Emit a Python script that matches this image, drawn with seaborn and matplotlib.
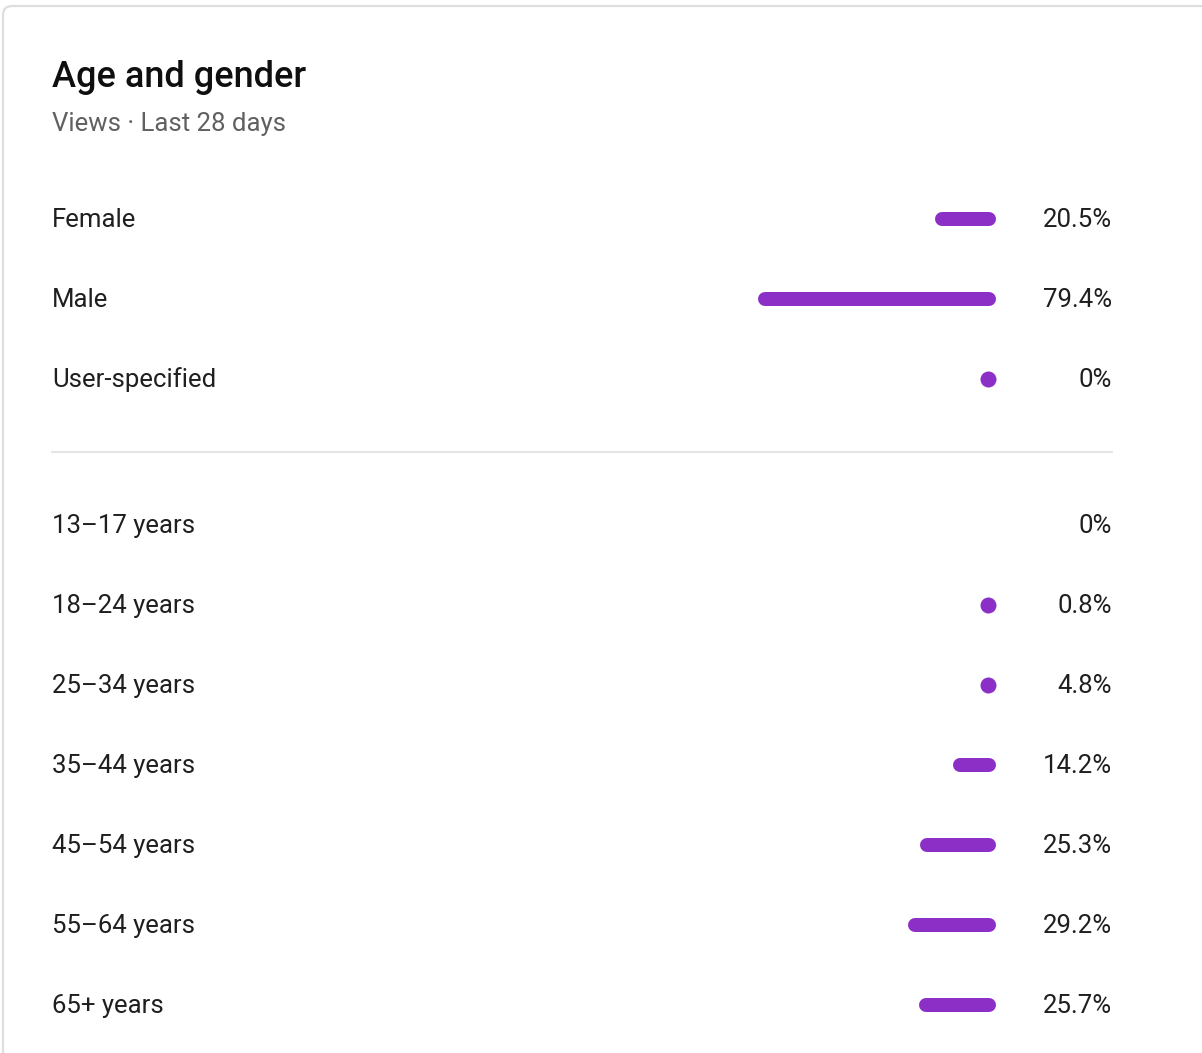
import numpy as np
import pandas as pd
import matplotlib
matplotlib.use("Agg")
import matplotlib.pyplot as plt
import seaborn as sns
from matplotlib.patches import FancyBboxPatch
from matplotlib.transforms import IdentityTransform

# ---------------- data ----------------
title = "Age and gender"
subtitle = "Views · Last 28 days"

gender_labels = ["Female", "Male", "User-specified"]
gender_values = [20.5, 79.4, 0.02]
gender_texts = ["20.5%", "79.4%", "0%"]

age_labels = ["13–17 years", "18–24 years", "25–34 years", "35–44 years",
              "45–54 years", "55–64 years", "65+ years"]
age_values = [0.0, 0.8, 4.8, 14.2, 25.3, 29.2, 25.7]
age_texts = ["0%", "0.8%", "4.8%", "14.2%", "25.3%", "29.2%", "25.7%"]

# ---------------- style ----------------
W, H, DPI = 1202, 1053, 100
PURPLE = "#8b2fc6"
TEXT = "#1f1f1f"
SUB = "#606060"
FONT = ["Roboto", "DejaVu Sans"]

sns.set_theme(style="white")
plt.rcParams["font.family"] = FONT

fig = plt.figure(figsize=(W / DPI, H / DPI), dpi=DPI)
fig.patch.set_facecolor("white")

def fx(px):
    return px / W

def fy(py):
    return 1 - py / H

# card outline (extends past right and bottom edges)
card = FancyBboxPatch((3, -40), W + 60, H - 6 + 40,
                      boxstyle="round,pad=0,rounding_size=9",
                      transform=IdentityTransform(), facecolor="white",
                      edgecolor="#dedede", linewidth=1.6, zorder=0)
fig.add_artist(card)

# bars axes: x in percent, 3 px per percent, right edge at 996 px
BAR_RIGHT = 996
PX_PER_PCT = 3.0
ax_w = 100 * PX_PER_PCT
ax = fig.add_axes([fx(BAR_RIGHT - ax_w), 0, fx(ax_w), 1])

# row layout
ROW0_G, ROW0_A, STEP = 219, 525, 80
rows = []
for i, (lab, v, t) in enumerate(zip(gender_labels, gender_values, gender_texts)):
    rows.append((ROW0_G + STEP * i, lab, v, t))
for i, (lab, v, t) in enumerate(zip(age_labels, age_values, age_texts)):
    rows.append((ROW0_A + STEP * i, lab, v, t))

thick_px = 14
dot_px = 16
r = (thick_px / 2) / PX_PER_PCT
min_pct = dot_px / PX_PER_PCT

seg_rows, dot_rows = [], []
for k, (y, lab, v, t) in enumerate(rows):
    if v <= 0:
        continue
    if v < min_pct:
        dot_rows.append({"x": min_pct / 2, "y": y})
    else:
        seg_rows.append({"x": r, "y": y, "seg": k})
        seg_rows.append({"x": v - r, "y": y, "seg": k})

seg_df = pd.DataFrame(seg_rows)
dot_df = pd.DataFrame(dot_rows)

sns.lineplot(data=seg_df, x="x", y="y", units="seg", estimator=None, sort=False,
             color=PURPLE, linewidth=thick_px * 72 / DPI, solid_capstyle="round",
             legend=False, ax=ax)
sns.scatterplot(data=dot_df, x="x", y="y", s=(dot_px * 72 / DPI) ** 2,
                color=PURPLE, linewidth=0, legend=False, ax=ax)
ax.set_xlim(100, 0)
ax.set_ylim(H, 0)
ax.axis("off")

# texts
LEFT, RIGHT = 52, 1112
fig.text(fx(LEFT), fy(87), title, fontsize=26, fontweight="medium",
         color="#0f0f0f", ha="left", va="baseline")
fig.text(fx(LEFT), fy(131), subtitle, fontsize=18.5, color=SUB,
         ha="left", va="baseline")

for y, lab, v, t in rows:
    fig.text(fx(LEFT), fy(y + 8), lab, fontsize=18.5, color=TEXT,
             ha="left", va="baseline")
    fig.text(fx(RIGHT), fy(y + 8), t, fontsize=18.5, color=TEXT,
             ha="right", va="baseline")

# divider
fig.add_artist(plt.Line2D([fx(LEFT), fx(RIGHT)], [fy(452), fy(452)],
                          color="#e5e5e5", linewidth=1.6))

fig.savefig("out.png", dpi=DPI, facecolor="white")
